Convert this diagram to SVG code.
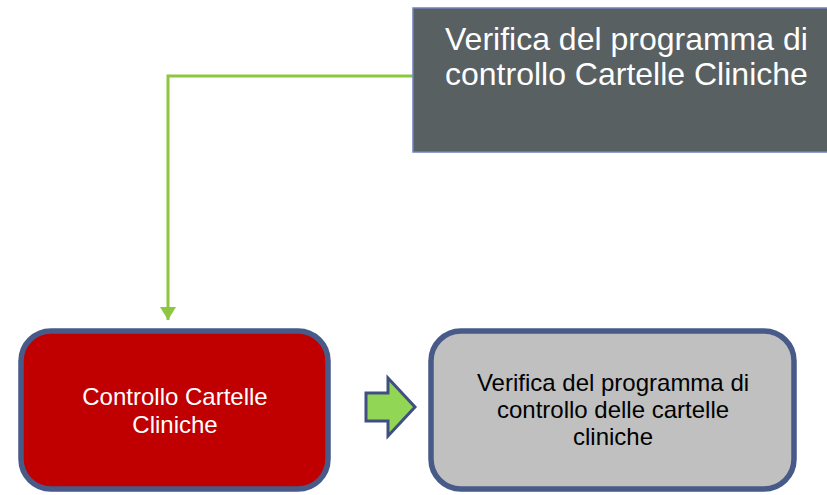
<svg xmlns="http://www.w3.org/2000/svg" width="827" height="495" viewBox="0 0 827 495">
<style>
text{font-family:"Liberation Sans",Arial,sans-serif;}
.rbox{stroke:#475a88;stroke-width:5.5;}
.wt{fill:#ffffff;font-size:24px;text-anchor:middle;}
.bt{fill:#000000;font-size:24px;text-anchor:middle;}
</style>
<defs>
<marker id="ah" markerWidth="16" markerHeight="13" refX="8" refY="13" orient="0" markerUnits="userSpaceOnUse">
<path d="M0,0 L16,0 L8,13 Z" fill="#8dc63f"/>
</marker>
</defs>
<rect width="827" height="495" fill="#ffffff"/>
<g id="connectors">
<path d="M413,76 H168 V320" fill="none" stroke="#8dc63f" stroke-width="3" marker-end="url(#ah)"/>
<polygon points="366,393 388,393 388,378 415,407 388,436 388,421 366,421" fill="#92d656" stroke="#3f5080" stroke-width="3" stroke-linejoin="miter"/>
</g>
<g id="node-top">
<rect x="413" y="8" width="420" height="144" fill="#586062" stroke="#6d82c0" stroke-width="1.5"/>
<text x="445" y="50" fill="#ffffff" font-size="32">Verifica del programma di</text>
<text x="445" y="85" fill="#ffffff" font-size="32">controllo Cartelle Cliniche</text>
</g>
<g id="node-controllo">
<rect class="rbox" x="21" y="331" width="307" height="158" rx="30" fill="#c00000"/>
<text class="wt" x="175" y="405">Controllo Cartelle</text>
<text class="wt" x="175" y="433">Cliniche</text>
</g>
<g id="node-verifica">
<rect class="rbox" x="431" y="331" width="363" height="158" rx="30" fill="#c0c0c0"/>
<text class="bt" x="613" y="391">Verifica del programma di</text>
<text class="bt" x="613" y="418">controllo delle cartelle</text>
<text class="bt" x="613" y="445">cliniche</text>
</g>
</svg>
